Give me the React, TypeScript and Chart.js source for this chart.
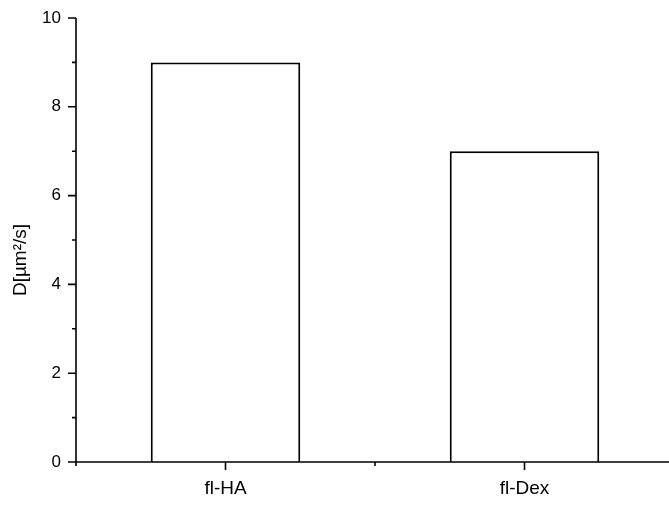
import React, { useEffect, useRef } from "react";
import { Chart, registerables } from "chart.js";

Chart.register(...registerables);

const categories = ["fl-HA", "fl-Dex"];
const values = [9, 7];
const yTitle = "D[µm²/s]";
const yMajorTicks = [0, 2, 4, 6, 8, 10];
const yMinorTicks = [1, 3, 5, 7, 9];
const xMinorTicks = [-0.5, 0.5, 1.5];

const FONT = "'Liberation Sans', Arial, sans-serif";

const axisTicksPlugin = {
  id: "axisTicks",
  afterDraw(chart: any) {
    const ctx = chart.ctx;
    const x = chart.scales.x;
    const y = chart.scales.y;
    const left = chart.chartArea.left;
    const bottom = chart.chartArea.bottom;
    ctx.save();
    ctx.strokeStyle = "#000";
    ctx.lineWidth = 1.6;
    ctx.beginPath();
    ctx.moveTo(left, y.getPixelForValue(10));
    ctx.lineTo(left, bottom);
    ctx.moveTo(left, bottom);
    ctx.lineTo(chart.width, bottom);
    yMajorTicks.forEach((v) => {
      const py = y.getPixelForValue(v);
      ctx.moveTo(left - 8, py);
      ctx.lineTo(left, py);
    });
    yMinorTicks.forEach((v) => {
      const py = y.getPixelForValue(v);
      ctx.moveTo(left - 4, py);
      ctx.lineTo(left, py);
    });
    categories.forEach((_, i) => {
      const px = x.getPixelForValue(i);
      ctx.moveTo(px, bottom);
      ctx.lineTo(px, bottom + 8);
    });
    xMinorTicks.forEach((v) => {
      const px = x.getPixelForValue(v);
      ctx.moveTo(px, bottom);
      ctx.lineTo(px, bottom + 4);
    });
    ctx.stroke();
    ctx.fillStyle = "#000";
    ctx.font = `19px ${FONT}`;
    ctx.textAlign = "center";
    ctx.textBaseline = "middle";
    ctx.translate(21, y.getPixelForValue(5) + 20);
    ctx.rotate(-Math.PI / 2);
    ctx.fillText(yTitle, 0, 0);
    ctx.restore();
  },
};

export default function App() {
  const ref = useRef<HTMLCanvasElement>(null);
  useEffect(() => {
    document.body.style.margin = "0";
    const chart = new Chart(ref.current!, {
      type: "bar",
      data: {
        labels: categories,
        datasets: [
          {
            data: values,
            backgroundColor: "#ffffff",
            borderColor: "#000000",
            borderWidth: 2,
            borderSkipped: "bottom",
            barPercentage: 0.5,
            categoryPercentage: 1,
          },
        ],
      },
      options: {
        animation: false,
        responsive: false,
        maintainAspectRatio: false,
        layout: { autoPadding: false, padding: { top: 18, left: 0, right: 0, bottom: 0 } },
        plugins: { legend: { display: false }, tooltip: { enabled: false } },
        scales: {
          x: {
            type: "category",
            offset: true,
            grid: { display: false, drawTicks: false },
            border: { display: false },
            ticks: { color: "#000", font: { family: FONT, size: 19 }, padding: 15 },
            afterFit: (s: any) => {
              s.height = 44;
              s.paddingLeft = 0;
              s.paddingRight = 0;
            },
          },
          y: {
            min: 0,
            max: 10,
            grid: { display: false, drawTicks: false },
            border: { display: false },
            ticks: {
              stepSize: 2,
              color: "#000",
              font: { family: FONT, size: 17 },
              padding: 15,
            },
            afterFit: (s: any) => {
              s.width = 76;
              s.paddingTop = 0;
              s.paddingBottom = 0;
            },
          },
        },
      },
      plugins: [axisTicksPlugin],
    });
    return () => chart.destroy();
  }, []);
  return (
    <div style={{ width: 669, height: 506, overflow: "hidden", background: "#fff" }}>
      <canvas ref={ref} width={674} height={506} style={{ display: "block", width: 674, height: 506 }} />
    </div>
  );
}
